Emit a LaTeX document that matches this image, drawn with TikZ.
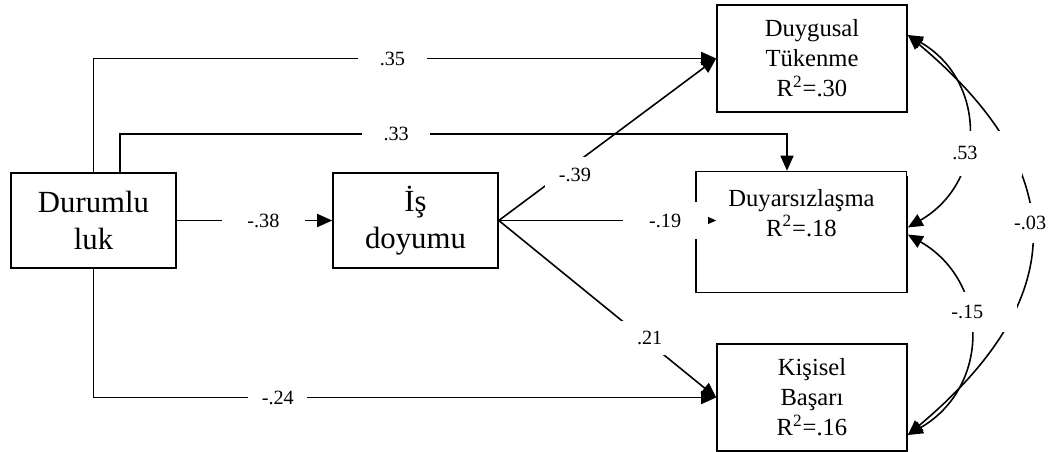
\documentclass[tikz,border=0pt]{standalone}
\usepackage{fontspec}
\setmainfont{Liberation Serif}
\usetikzlibrary{arrows.meta}

\begin{document}
\begin{tikzpicture}[->, >={Triangle[length=0.3cm,width=0.26cm]}, line width=0.9pt,
  box/.style={draw, inner sep=0pt, align=center, font=\fontsize{14}{17}\selectfont},
  bigbox/.style={box, font=\fontsize{17.5}{21}\selectfont},
  coef/.style={fill=white, inner sep=1pt, font=\fontsize{11.5}{13}\selectfont}]
  \useasboundingbox (0,0) rectangle (21.02,-9.04);

  \node[bigbox, minimum width=3.3cm, minimum height=1.9cm] (dur) at (1.87,-4.41) {Durumlu\\luk};
  \node[bigbox, minimum width=3.3cm, minimum height=1.9cm] (isd) at (8.31,-4.41) {İş\\doyumu};
  \node[box, minimum width=3.8cm, minimum height=2.14cm] (duyg) at (16.24,-1.17) {Duygusal\\Tükenme\\R\textsuperscript{2}=.30};
  \node[box, minimum width=4.22cm, minimum height=2.42cm] (duyar) at (16.03,-4.64) {Duyarsızlaşma\\R\textsuperscript{2}=.18\\\strut};
  \node[box, minimum width=3.8cm, minimum height=2.14cm] (kis) at (16.24,-7.95) {Kişisel\\Başarı\\R\textsuperscript{2}=.16};

  \path (isd.east -| duyar.west) ++(0.42,0) coordinate (e19);

  \draw (dur.north) |- node[coef, pos=0.74, minimum width=1.38cm] {.35} (duyg.west);
  \draw ([xshift=0.53cm]dur.north) -- ++(0,0.76) -| node[coef, pos=0.207, minimum width=1.36cm] {.33} ([xshift=-0.29cm]duyar.north);
  \draw (dur) -- node[coef, pos=0.557, minimum width=1.66cm] {-.38} (isd);
  \draw (dur.south) |- node[coef, pos=0.648, minimum width=1.18cm] {-.24} (kis.west);
  \draw (isd.east) -- node[coef, pos=0.35, yshift=-0.22cm, minimum width=1.2cm, minimum height=0.7cm] {-.39} (duyg.west);
  \draw (isd.east) -- node[coef, pos=0.765, minimum width=1.7cm, minimum height=0.74cm] {-.19} (e19);
  \draw (isd.east) -- node[coef, pos=0.694, yshift=0.1cm, minimum width=1.2cm, minimum height=0.68cm] {.21} (kis.west);

  % correlations
  \draw[<->] ([yshift=0.47cm]duyg.east) to[out=-40, in=40, looseness=1.37] node[coef, pos=0.47, minimum height=0.8cm] {-.03} ([yshift=-0.75cm]kis.east);
  \draw[<->] ([yshift=0.47cm]duyg.east) to[out=-30, in=30, looseness=1.22] node[coef, pos=0.6, minimum width=2.3cm, minimum height=0.9cm] {.53} ([yshift=0.09cm]duyar.east);
  \draw[<->] ([yshift=-0.05cm]duyar.east) to[out=-30, in=30, looseness=1.22] node[coef, pos=0.4, minimum width=2cm, minimum height=0.8cm] {-.15} ([yshift=-0.75cm]kis.east);
\end{tikzpicture}
\end{document}
